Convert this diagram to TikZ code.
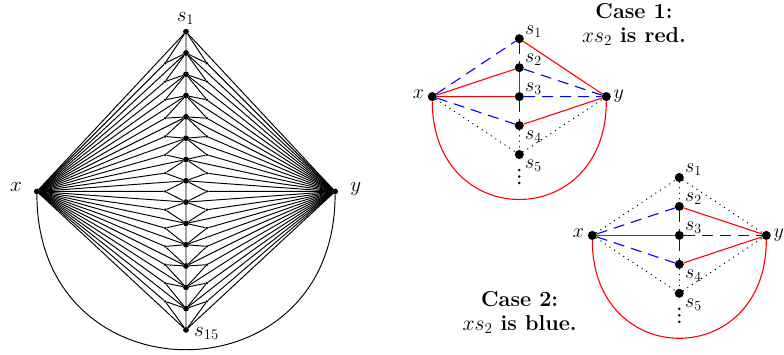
\RequirePackage{fix-cm}
\documentclass[tikz,border=0pt]{standalone}
\usetikzlibrary{calc}
\tikzset{
  bigdot/.style={circle,fill=black,inner sep=0pt,minimum size=5.8pt},
  smalldot/.style={circle,fill=black,inner sep=0pt,minimum size=2.8pt},
  cdot/.style={circle,fill=black,inner sep=0pt,minimum size=9pt},
  vdot/.style={circle,fill=black,inner sep=0pt,minimum size=2.8pt},
  lab/.style={inner sep=0pt,font=\fontsize{20}{24}\selectfont},
  llab/.style={inner sep=0pt,font=\fontsize{21}{25}\selectfont},
  casetxt/.style={inner sep=0pt,anchor=base,font=\fontsize{21.6}{24}\selectfont\bfseries},
  thinedge/.style={line width=0.95pt},
  redE/.style={red,line width=1.1pt},
  blueE/.style={blue,line width=1.1pt,dash pattern=on 11pt off 7pt},
  dotE/.style={black,line width=1.5pt,line cap=round,dash pattern=on 0.01pt off 5.5pt}
}
\begin{document}
\begin{tikzpicture}[x=1pt,y=-1pt]
\useasboundingbox (0,0) rectangle (784,354);
% ---------- left graph ----------
\foreach \i in {1,...,15} \node[bigdot] (s\i) at (186,{31.7+(\i-1)*21.3}) {};
\node[bigdot] (lx) at (36.9,191.45) {};
\node[bigdot] (ly) at (335.1,191.45) {};
\foreach \i [count=\j from 2] in {1,...,14} {
  \coordinate (m\i) at ($(s\i)!0.5!(s\j)$);
  \node[smalldot] (L\i) at ($(lx)!0.86!(m\i)$) {};
  \node[smalldot] (R\i) at ($(ly)!0.86!(m\i)$) {};
}
\foreach \i in {1,...,15} \draw[thinedge] (lx) -- (s\i) (ly) -- (s\i);
\foreach \i [count=\j from 2] in {1,...,14}
  \draw[thinedge] (s\i) -- (s\j) (lx) -- (L\i) (L\i) -- (s\i) (L\i) -- (s\j)
                  (ly) -- (R\i) (R\i) -- (s\i) (R\i) -- (s\j);
\draw[thinedge] (lx) .. controls +(0,210) and +(0,210) .. (ly);
\node[llab,anchor=base] (ls1) at ($(s1)+(-0.5,-10)$) {$s_1$};
\node[llab,anchor=base west] (ls15) at ($(s15)+(8,6.7)$) {$s_{15}$};
\node[llab,anchor=base east] (llx) at ($(lx)+(-15,0)$) {$x$};
\node[llab,anchor=base west] (lly) at ($(ly)+(15,0)$) {$y$};
% ---------- case 1 ----------
\foreach \i in {1,...,5} \node[cdot] (a\i) at (519.3,{38.7+(\i-1)*28.95}) {};
\node[cdot] (ax) at (432.3,96.6) {};
\node[cdot] (ay) at (606.3,96.6) {};
\draw[redE] (ax) .. controls +(0,135.6) and +(0,135.6) .. (ay);
\draw[blueE] (ax) -- (a1);
\draw[redE] (a1) -- (ay);
\draw[blueE] (a1) -- (a2);
\draw[redE] (ax) -- (a2);
\draw[redE] (a2) -- (a3);
\draw[redE] (ax) -- (a3);
\draw[blueE] (a2) -- (ay);
\draw[blueE] (a3) -- (ay);
\draw[blueE] (a3) -- (a4);
\draw[blueE] (ax) -- (a4);
\draw[redE] (a4) -- (ay);
\draw[dotE] (ax) -- (a5);
\draw[dotE] (a5) -- (ay);
\draw[dotE] (a4) -- (a5);
\node[vdot] (av1) at ($(a5)+(0,15.5)$) {};
\node[vdot] (av2) at ($(a5)+(0,22)$) {};
\node[vdot] (av3) at ($(a5)+(0,28.5)$) {};
\node[lab,anchor=base west] (la1) at ($(a1)+(5.7,-4.7)$) {$s_1$};
\node[lab,anchor=base west] (la2) at ($(a2)+(5.7,-4.7)$) {$s_2$};
\node[lab,anchor=base west] (la3) at ($(a3)+(5.7,-4.7)$) {$s_3$};
\node[lab,anchor=base west] (la4) at ($(a4)+(5.7,14.3)$) {$s_4$};
\node[lab,anchor=base west] (la5) at ($(a5)+(5.7,14.3)$) {$s_5$};
\node[lab,anchor=base east] (lax) at ($(ax)+(-8,1.7)$) {$x$};
\node[lab,anchor=base west] (lay) at ($(ay)+(7,1.7)$) {$y$};
\node[casetxt] (t1a) at (634,18.3) {Case 1:};
\node[casetxt] (t1b) at (634,42) {$xs_2$ is red.};
% ---------- case 2 ----------
\foreach \i in {1,...,5} \node[cdot] (b\i) at (679.3,{177.5+(\i-1)*28.95}) {};
\node[cdot] (bx) at (592.3,235.4) {};
\node[cdot] (by) at (766.3,235.4) {};
\draw[redE] (bx) .. controls +(0,135.6) and +(0,135.6) .. (by);
\draw[dotE] (bx) -- (b1);
\draw[dotE] (b1) -- (by);
\draw[dotE] (b1) -- (b2);
\draw[blueE] (bx) -- (b2);
\draw[redE] (b2) -- (by);
\draw[blueE] (b2) -- (b3);
\draw[redE] (bx) -- (b3);
\draw[blueE] (b3) -- (by);
\draw[blueE] (b3) -- (b4);
\draw[blueE] (bx) -- (b4);
\draw[redE] (b4) -- (by);
\draw[dotE] (bx) -- (b5);
\draw[dotE] (b5) -- (by);
\draw[dotE] (b4) -- (b5);
\node[vdot] (bv1) at ($(b5)+(0,15.5)$) {};
\node[vdot] (bv2) at ($(b5)+(0,22)$) {};
\node[vdot] (bv3) at ($(b5)+(0,28.5)$) {};
\node[lab,anchor=base west] (lb1) at ($(b1)+(5.7,-4.7)$) {$s_1$};
\node[lab,anchor=base west] (lb2) at ($(b2)+(5.7,-4.7)$) {$s_2$};
\node[lab,anchor=base west] (lb3) at ($(b3)+(5.7,-4.7)$) {$s_3$};
\node[lab,anchor=base west] (lb4) at ($(b4)+(5.7,14.3)$) {$s_4$};
\node[lab,anchor=base west] (lb5) at ($(b5)+(5.7,14.3)$) {$s_5$};
\node[lab,anchor=base east] (lbx) at ($(bx)+(-8,1.7)$) {$x$};
\node[lab,anchor=base west] (lby) at ($(by)+(7,1.7)$) {$y$};
\node[casetxt] (t2a) at (519.7,306) {Case 2:};
\node[casetxt] (t2b) at (519.7,330) {$xs_2$ is blue.};
\end{tikzpicture}
\end{document}
